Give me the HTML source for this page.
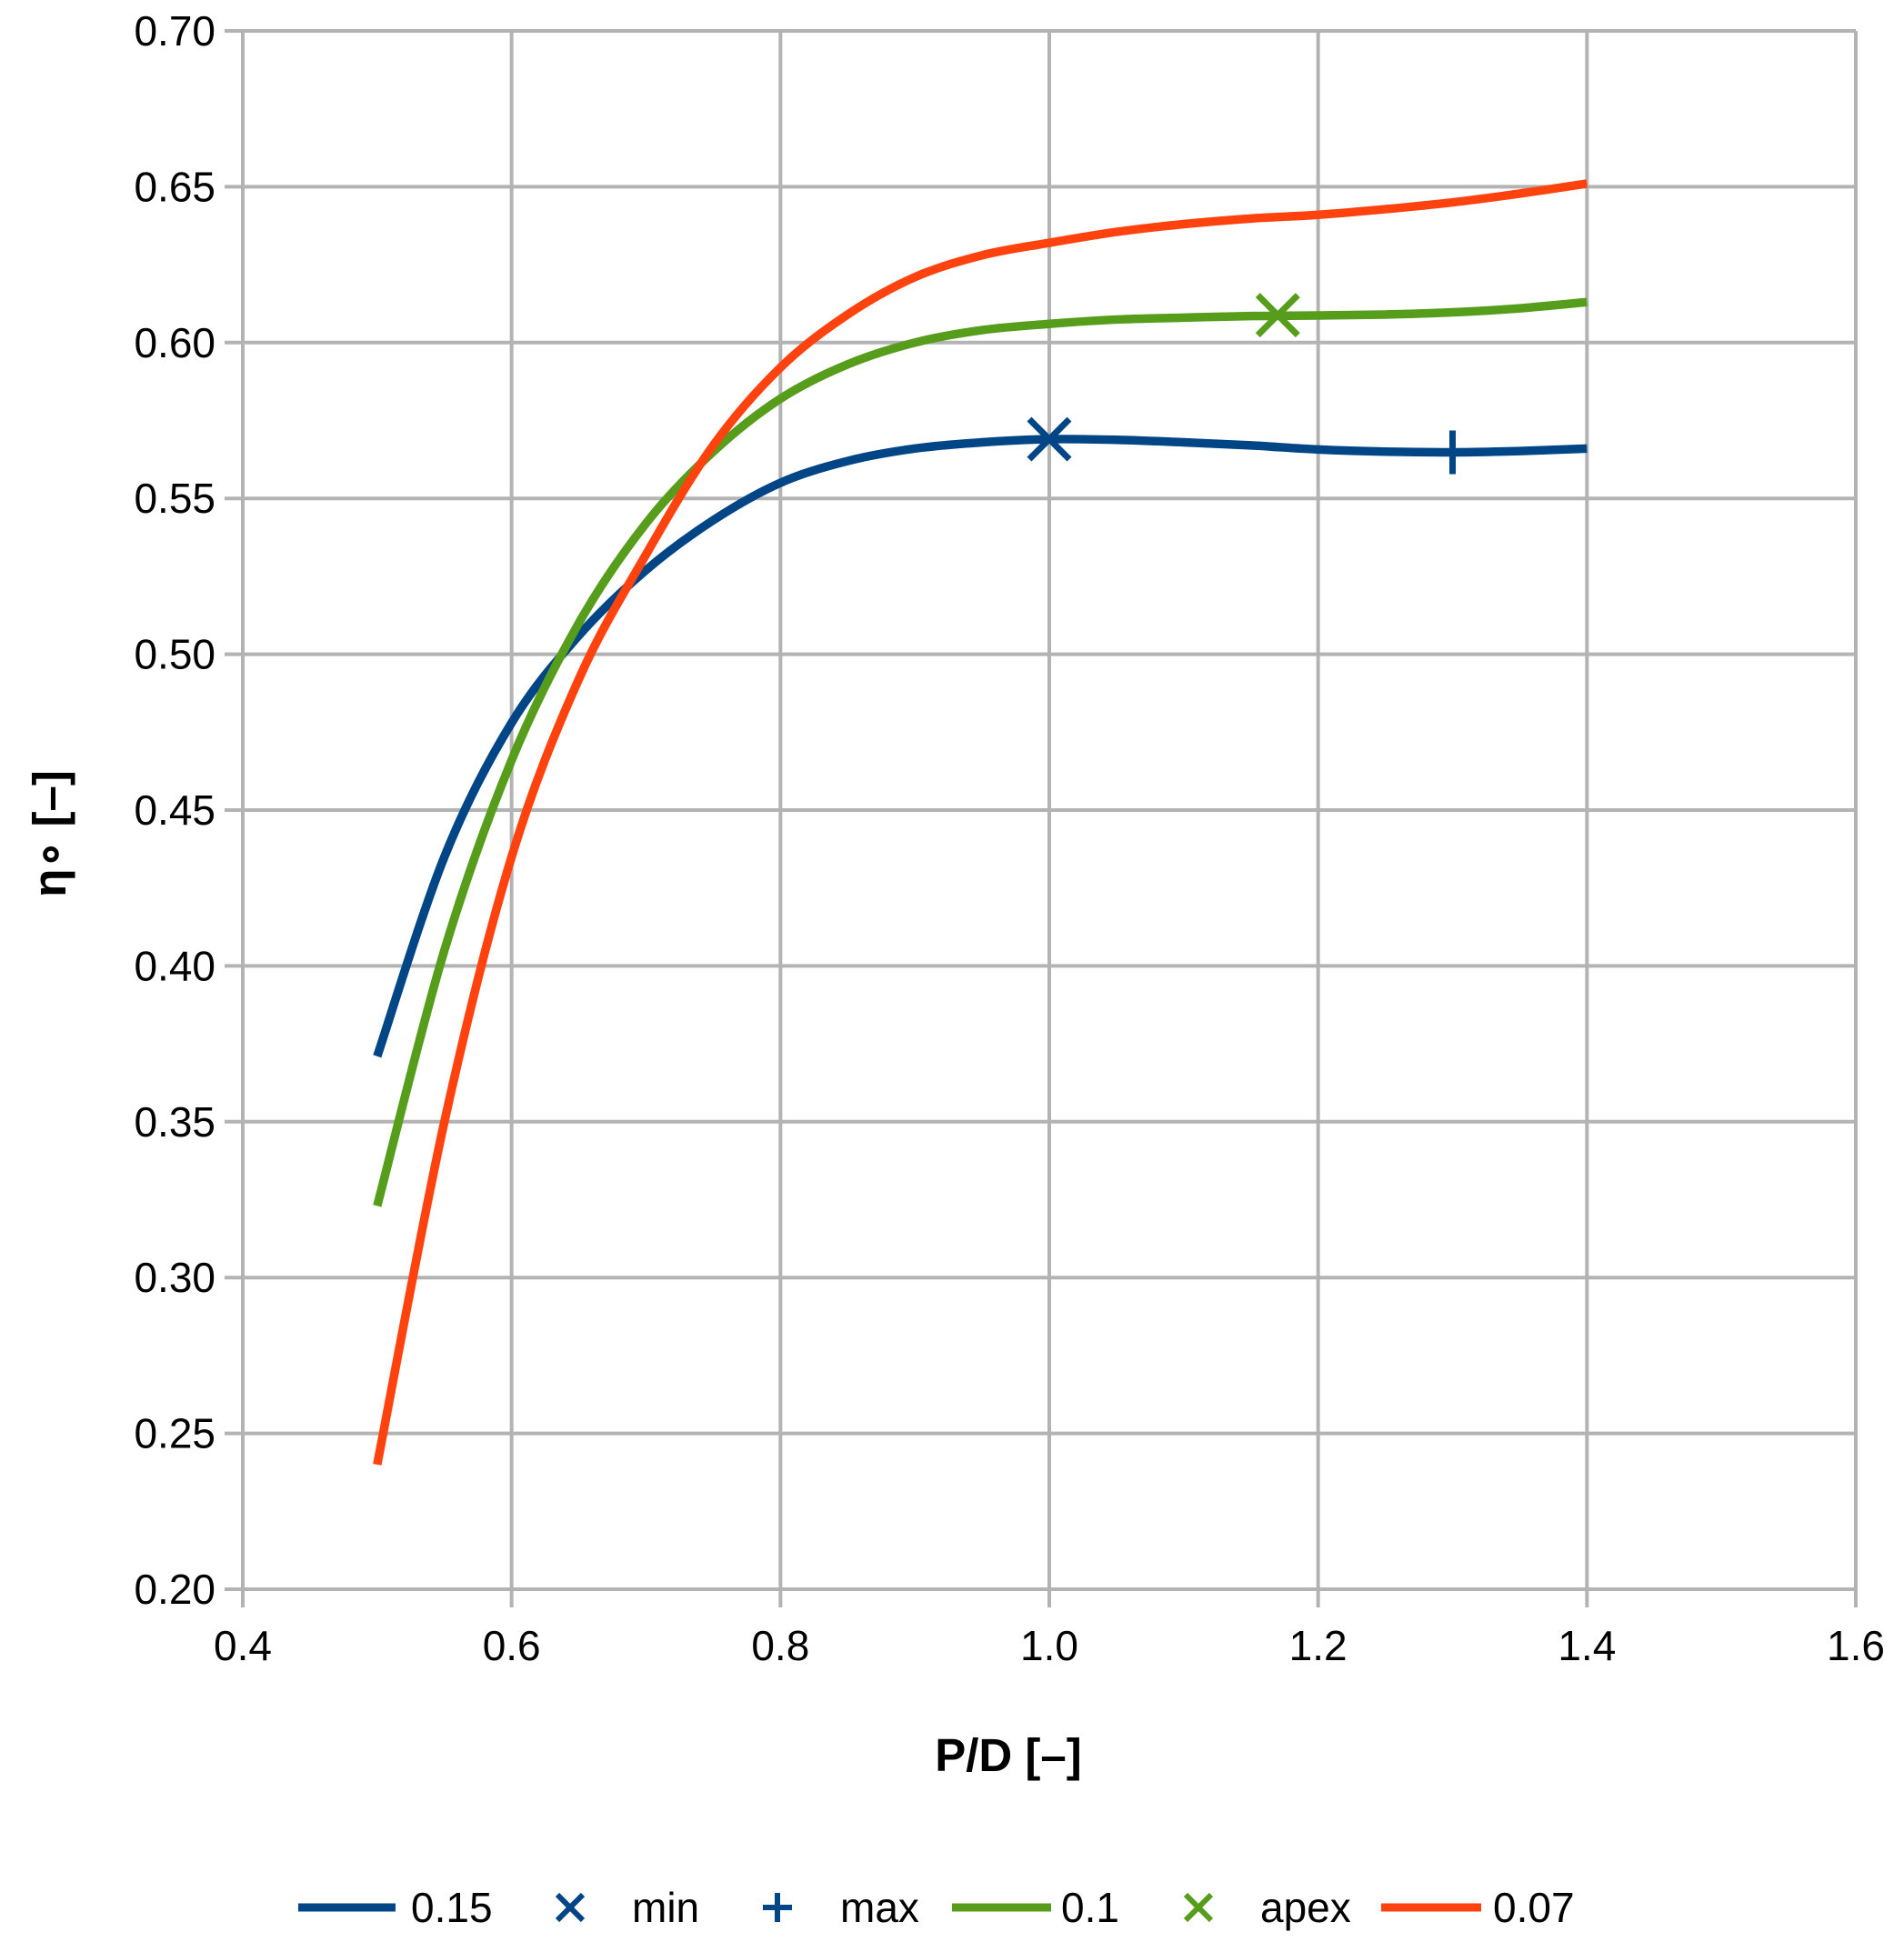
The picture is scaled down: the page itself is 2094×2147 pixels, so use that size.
<!DOCTYPE html>
<html><head><meta charset="utf-8"><style>
html,body{margin:0;padding:0;background:#fff}
svg{display:block}
text{font-family:"Liberation Sans",sans-serif;fill:#000}
</style></head><body>
<svg id="s" width="2094" height="2147" viewBox="0 0 2094 2147" xmlns="http://www.w3.org/2000/svg">
<g id="grid" stroke="#b3b3b3" stroke-width="4" fill="none"></g>
<g id="lab" font-size="46"></g>
<text x="1109" y="1948" font-size="51" font-weight="bold" text-anchor="middle">P/D [–]</text>
<text transform="translate(72,917) rotate(-90)" font-size="51" font-weight="bold" text-anchor="middle">η∘ [–]</text>
<g id="curves" fill="none" stroke-width="9.5" stroke-linejoin="round"></g>
<g id="leg" font-size="46"></g>
</svg>
<script>
var NS="http://www.w3.org/2000/svg";
function X(v){return 267+(v-0.4)*1478.33}
function Y(v){return 34+(0.7-v)*3428}
function el(p,t,a,txt){var e=document.createElementNS(NS,t);for(var k in a)e.setAttribute(k,a[k]);if(txt!=null)e.textContent=txt;p.appendChild(e);return e}
var g=document.getElementById('grid'),lab=document.getElementById('lab');
for(var i=0;i<=10;i++){var v=0.2+i*0.05,y=Y(v);
 el(g,'line',{x1:247,y1:y,x2:2041,y2:y});
 el(lab,'text',{x:237,y:y+16,'text-anchor':'end'},v.toFixed(2));}
for(var i=0;i<=6;i++){var v=0.4+i*0.2,x=X(v);
 el(g,'line',{x1:x,y1:34,x2:x,y2:1768});
 el(lab,'text',{x:x,y:1826,'text-anchor':'middle'},v.toFixed(1));}
function path(ys){
 var P=ys.map(function(v,i){return[X(0.5+i*0.05),Y(v)]});
 var d='M'+P[0][0]+','+P[0][1];
 for(var i=0;i<P.length-1;i++){
  var p0=P[i-1]||P[i],p1=P[i],p2=P[i+1],p3=P[i+2]||P[i+1];
  var c1=[p1[0]+(p2[0]-p0[0])/6,p1[1]+(p2[1]-p0[1])/6],c2=[p2[0]-(p3[0]-p1[0])/6,p2[1]-(p3[1]-p1[1])/6];
  d+=' C'+c1+' '+c2+' '+p2;}
 return d;}
var blue=[.371,.435,.478,.506,.527,.543,.555,.562,.566,.568,.569,.5688,.568,.567,.5657,.5650,.5648,.5652,.566];
var green=[.323,.405,.466,.51,.542,.565,.582,.593,.600,.604,.606,.6074,.608,.6085,.6087,.609,.6097,.611,.613];
var red=[.240,.350,.435,.492,.532,.567,.592,.609,.621,.628,.632,.6355,.638,.6398,.641,.6428,.645,.6478,.651];
var c=document.getElementById('curves');
el(c,'path',{d:path(blue),stroke:'#004586'});
el(c,'path',{d:path(green),stroke:'#579d1c'});
el(c,'path',{d:path(red),stroke:'#ff420e'});
function cross(p,x,y,col,s,w){el(p,'path',{d:'M'+(x-s)+','+(y-s)+'L'+(x+s)+','+(y+s)+'M'+(x-s)+','+(y+s)+'L'+(x+s)+','+(y-s),stroke:col,'stroke-width':w,fill:'none'})}
function plus(p,x,y,col,s,w){el(p,'path',{d:'M'+(x-s)+','+y+'L'+(x+s)+','+y+'M'+x+','+(y-s)+'L'+x+','+(y+s),stroke:col,'stroke-width':w,fill:'none'})}
cross(c,X(1.0),Y(0.569),'#004586',22,7);
plus(c,X(1.3),Y(0.5648),'#004586',24,7);
cross(c,X(1.17),Y(0.6088),'#579d1c',22,7);
var L=document.getElementById('leg'),ly=2098,ty=2114;
el(L,'line',{x1:328,y1:ly,x2:435,y2:ly,stroke:'#004586','stroke-width':9});
el(L,'text',{x:452,y:ty},'0.15');
cross(L,627,ly,'#004586',14,6);
el(L,'text',{x:695,y:ty},'min');
plus(L,855,ly,'#004586',16,6);
el(L,'text',{x:924,y:ty},'max');
el(L,'line',{x1:1047,y1:ly,x2:1156,y2:ly,stroke:'#579d1c','stroke-width':9});
el(L,'text',{x:1167,y:ty},'0.1');
cross(L,1318,ly,'#579d1c',14,6);
el(L,'text',{x:1386,y:ty},'apex');
el(L,'line',{x1:1519,y1:ly,x2:1629,y2:ly,stroke:'#ff420e','stroke-width':9});
el(L,'text',{x:1642,y:ty},'0.07');
</script>
</body></html>
